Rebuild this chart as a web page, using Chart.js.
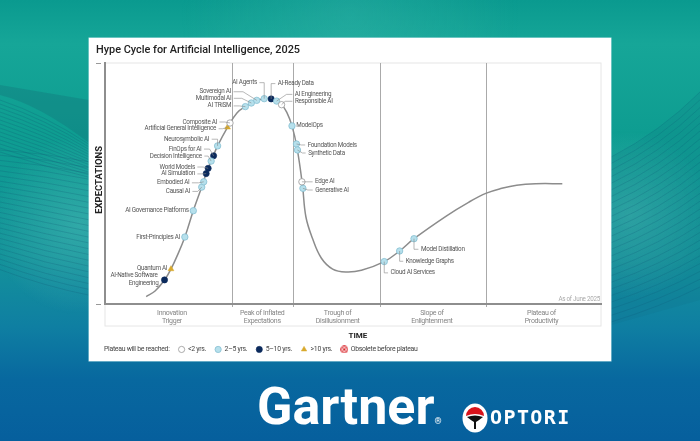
<!DOCTYPE html>
<html>
<head>
<meta charset="utf-8">
<script src="https://cdn.jsdelivr.net/npm/chart.js@4"></script>
<style>
  html, body { margin: 0; padding: 0; width: 700px; height: 441px; overflow: hidden; }
  body { position: relative; font-family: Roboto, sans-serif;
    background: linear-gradient(180deg, #0a9a8f 0%, #16a698 10%, #0e9d91 30%, #14939a 58%, #0f7fa2 74%, #08689f 86%, #065f9d 100%); }
  #waves { position: absolute; left: 0; top: 0; }
  #card { position: absolute; left: 89px; top: 38px; width: 522px; height: 323px; background: #fff; box-shadow: 0 0 0 0.5px #bfe3ea; }
  #card h1 { position: absolute; left: 7px; top: 5px; margin: 0; font: 500 10.9px Roboto, sans-serif; color: #222; white-space: nowrap; }
  #stage { position: absolute; left: 0; top: 0; }
  #gartner { position: absolute; left: 257px; top: 376px; font: 700 52px Roboto, sans-serif; color: #fff; }
  #gartner sup { font-size: 9px; font-weight: 400; vertical-align: baseline; margin-left: 0; }
  #optori { position: absolute; left: 490px; top: 405px; font: 700 20px "DejaVu Sans Mono", monospace; color: #fff; letter-spacing: 1.4px; }
  #badge { position: absolute; left: 462px; top: 403px; }
</style>
</head>
<body>
<canvas id="waves" width="700" height="441"></canvas>
<div id="card">
  <canvas id="stage" width="522" height="323"></canvas>
  <h1>Hype Cycle for Artificial Intelligence, 2025</h1>
</div>
<div id="gartner">Gartner<sup>®</sup></div>
<svg id="badge" width="26" height="30" viewBox="0 0 26 30">
  <ellipse cx="13" cy="15" rx="12.5" ry="14.5" fill="#fff"/>
  <path d="M4 13 A9 9 0 0 1 22 13 Q13 9 4 13Z" fill="#d8131b"/>
  <path d="M5 14 Q13 11 21 14 Q16 18 14 19 L14 26 L12 26 L12 19 Q10 18 5 14Z" fill="#111"/>
</svg>
<div id="optori">OPTORI</div>

<script>
// curve, x = time, y = expectations (both 0-100 of the plot)
const curveX = [8.3, 10.1, 12.0, 13.3, 14.7, 16.1, 17.8, 19.5, 20.4, 21.4, 22.7, 24.7, 26.6, 28.3, 30.6, 32.1, 33.5, 35.6, 36.7, 37.7, 38.7, 39.8, 40.5, 41.8, 43.6, 45.9, 48.6, 51.7, 56.3, 59.4, 62.3, 68.8, 73.3, 76.9, 80.0, 83.0, 86.8, 92.2];
const curveY = [3.1, 5.4, 10.0, 14.5, 20.7, 27.8, 38.7, 48.5, 54.1, 59.3, 65.6, 73.3, 79.3, 81.9, 84.5, 85.2, 85.1, 82.7, 79.3, 73.9, 65.0, 49.5, 36.2, 27.4, 19.1, 14.5, 13.3, 14.0, 17.6, 22.0, 27.1, 36.5, 42.2, 46.0, 48.0, 49.3, 49.9, 49.9];

const under2Names = ['Composite AI', 'Responsible AI', 'Edge AI'];
const under2X = [25.2, 35.6, 39.7];
const under2Y = [75.1, 82.7, 50.7];

const mid2to5Names = ['First-Principles AI', 'AI Governance Platforms', 'Causal AI', 'Embodied AI', 'Decision Intelligence', 'Neurosymbolic AI', 'AI TRiSM', 'Multimodal AI', 'Sovereign AI', 'AI Agents', 'AI Engineering', 'ModelOps', 'Foundation Models', 'Synthetic Data', 'Generative AI', 'Cloud AI Services', 'Knowledge Graphs', 'Model Distillation'];
const mid2to5X = [16.1, 17.8, 19.5, 19.9, 21.4, 22.7, 28.3, 29.5, 30.6, 32.1, 34.6, 37.7, 38.6, 38.8, 39.9, 56.3, 59.4, 62.3];
const mid2to5Y = [27.8, 38.7, 48.5, 50.7, 59.3, 65.6, 81.9, 83.4, 84.5, 85.2, 84.2, 73.9, 66.4, 63.9, 48.0, 17.6, 22.0, 27.1];

const long5to10Names = ['AI-Native Software|Engineering', 'AI Simulation', 'World Models', 'FinOps for AI', 'AI-Ready Data'];
const long5to10X = [12.0, 20.4, 20.8, 21.9, 33.5];
const long5to10Y = [10.0, 54.1, 56.3, 61.5, 85.1];

const over10Names = ['Quantum AI', 'Artificial General Intelligence'];
const over10X = [13.3, 24.7];
const over10Y = [14.5, 73.3];

const phaseBounds = [25.7, 38.0, 55.5, 77.0];
const phaseCenters = [13.5, 31.7, 46.9, 65.9, 88.0];
const phaseNames = [['Innovation', 'Trigger'], ['Peak of Inflated', 'Expectations'], ['Trough of', 'Disillusionment'], ['Slope of', 'Enlightenment'], ['Plateau of', 'Productivity']];

const legendNames = ['Plateau will be reached:', '<2 yrs.', '2–5 yrs.', '5–10 yrs.', '>10 yrs.', 'Obsolete before plateau'];

// where each label sits relative to its marker: [text edge dx, dy, leader elbow dx]
const labelPlace = {
  'AI Agents': [-7.3, -16, 0], 'AI-Ready Data': [6.7, -15.3, 0],
  'AI Engineering': [18.2, -6.7, 9.9], 'Responsible AI': [13.3, -3.4, 3.5],
  'Sovereign AI': [-25.7, -8.6, -13.7], 'Multimodal AI': [-20, -4.7, -9.6], 'AI TRiSM': [-14.2, -0.7, -6],
  'Composite AI': [-13, -1, -5], 'Artificial General Intelligence': [-11.4, 1.4, -5],
  'Neurosymbolic AI': [-8.4, -6.7, 0], 'FinOps for AI': [-12.1, -6.7, -4], 'Decision Intelligence': [-9.3, -5, -3],
  'World Models': [-13.3, -1.3, -5], 'AI Simulation': [-11.3, 0.3, -4], 'Embodied AI': [-14.3, 1, -5], 'Causal AI': [-11.8, 4.3, -4],
  'AI Governance Platforms': [-4.6, 0], 'First-Principles AI': [-4.8, 0], 'Quantum AI': [-3.7, -0.7],
  'AI-Native Software|Engineering': [-7, -4.3], 'ModelOps': [4.3, 0],
  'Foundation Models': [11.2, 1, 5], 'Synthetic Data': [10.7, 3, 5], 'Edge AI': [13.2, 0, 5], 'Generative AI': [12.3, 1.7, 5],
  'Cloud AI Services': [6.3, 11.3, 0], 'Knowledge Graphs': [6.1, 10.3, 0], 'Model Distillation': [6.9, 10.6, 0]
};

const toPoints = (xs, ys) => xs.map((x, i) => ({ x: x, y: ys[i] }));

// red "obsolete" legend icon
const obsoleteIcon = document.createElement('canvas');
obsoleteIcon.width = obsoleteIcon.height = 8;
(function () {
  const c = obsoleteIcon.getContext('2d');
  c.strokeStyle = '#d8232a'; c.lineWidth = 1;
  c.fillStyle = '#f9d4d4';
  c.beginPath(); c.arc(4, 4, 3.4, 0, Math.PI * 2); c.fill(); c.stroke();
  c.beginPath(); c.moveTo(2.4, 2.4); c.lineTo(5.6, 5.6); c.moveTo(5.6, 2.4); c.lineTo(2.4, 5.6); c.stroke();
})();

// background mesh, just decoration
(function () {
  const c = document.getElementById('waves').getContext('2d');
  const glow = (x, y, r, a) => {
    const g = c.createRadialGradient(x, y, 0, x, y, r);
    g.addColorStop(0, 'rgba(120,215,205,' + a + ')');
    g.addColorStop(1, 'rgba(120,215,205,0)');
    c.fillStyle = g; c.fillRect(0, 0, 700, 441);
  };
  glow(80, 225, 90, 0.3); glow(630, 215, 85, 0.3); glow(350, 15, 170, 0.16);
  // dark wedge on the left
  c.fillStyle = 'rgba(20,90,110,0.24)';
  c.beginPath(); c.moveTo(0, 85); c.lineTo(89, 100); c.lineTo(89, 143); c.quadraticCurveTo(40, 105, 0, 95); c.fill();
  c.lineWidth = 0.7;
  c.strokeStyle = 'rgba(15,85,115,0.34)';
  for (let i = 0; i < 24; i++) {
    c.beginPath();
    c.moveTo(0, 150 + i * 5.2);
    c.quadraticCurveTo(45, 153 + i * 5.8, 90, 162 + i * 5.8);
    c.stroke();
  }
  for (let i = 0; i < 14; i++) {
    c.beginPath();
    c.moveTo(0, 100 + i * 4);
    c.quadraticCurveTo(45, 115 + i * 4, 90, 145 + i * 2.5);
    c.stroke();
  }
  // fan on the right
  c.fillStyle = 'rgba(15,95,125,0.12)';
  c.beginPath(); c.moveTo(611, 157); c.quadraticCurveTo(660, 132, 700, 92); c.lineTo(700, 300); c.lineTo(611, 325); c.fill();
  c.strokeStyle = 'rgba(15,85,115,0.32)';
  for (let i = 0; i < 26; i++) {
    c.beginPath();
    c.moveTo(611, 157 + i * 6.6);
    c.quadraticCurveTo(660, 132 + i * 7, 700, 92 + i * 7.8);
    c.stroke();
  }
})();

const narrow = '-0.28px';

const hypePlugin = {
  id: 'hype',
  beforeUpdate(chart) { chart.ctx.letterSpacing = narrow; },
  beforeDraw(chart) {
    const a = chart.chartArea, c = chart.ctx;
    c.letterSpacing = narrow;
    c.save();
    c.strokeStyle = '#e6e6e6'; c.lineWidth = 1;
    c.strokeRect(a.left, a.top, a.right - a.left, a.bottom - a.top + 22);
    c.strokeStyle = '#999';
    [a.top, a.bottom].forEach(y => { c.beginPath(); c.moveTo(a.left - 9, y + 0.5); c.lineTo(a.left - 4, y + 0.5); c.stroke(); });
    c.restore();
  },
  afterLayout(chart) {
    chart.legend.left = -3.5;
    chart.legend.top = 299;
  },
  afterDatasetsDraw(chart) {
    const c = chart.ctx, x = chart.scales.x, y = chart.scales.y;
    const groups = [[under2Names, under2X, under2Y], [mid2to5Names, mid2to5X, mid2to5Y], [long5to10Names, long5to10X, long5to10Y], [over10Names, over10X, over10Y]];
    c.save();
    c.font = '6.3px Roboto, sans-serif'; c.textBaseline = 'middle';
    groups.forEach(([names, xs, ys]) => names.forEach((name, i) => {
      const px = x.getPixelForValue(xs[i]), py = y.getPixelForValue(ys[i]);
      const place = labelPlace[name];
      const tx = px + place[0], ty = py + place[1];
      const left = place[0] < 0;
      c.textAlign = left ? 'right' : 'left';
      c.fillStyle = '#555';
      const lines = name.split('|');
      lines.forEach((line, k) => c.fillText(line, tx + k, ty + k * 8));
      if (place[2] !== undefined) {
        c.strokeStyle = '#888'; c.lineWidth = 0.6;
        c.beginPath();
        c.moveTo(tx + (left ? 2.5 : -2.5), ty);
        c.lineTo(px + place[2], ty);
        c.lineTo(px, py);
        c.stroke();
      }
    }));
    // as-of note and axis names
    c.fillStyle = '#aaa'; c.textAlign = 'right';
    c.fillText('As of June 2025', chart.chartArea.right - 1, chart.chartArea.bottom - 5);
    c.fillStyle = '#222'; c.textAlign = 'center';
    c.letterSpacing = '0px';
    c.font = '700 8px Roboto, sans-serif';
    c.fillText('TIME', x.getPixelForValue(51), chart.chartArea.bottom + 31.5);
    c.translate(chart.chartArea.left - 5.5, y.getPixelForValue(51.5));
    c.rotate(-Math.PI / 2);
    c.font = '700 9.5px Roboto, sans-serif';
    c.fillText('EXPECTATIONS', 0, 0);
    c.restore();
  }
};

new Chart(document.getElementById('stage').getContext('2d'), {
  type: 'scatter',
  plugins: [hypePlugin],
  data: {
    datasets: [
      { label: legendNames[0], data: [], pointStyle: 'circle', backgroundColor: 'rgba(0,0,0,0)', borderColor: 'rgba(0,0,0,0)', order: 1 },
      { label: legendNames[1], data: toPoints(under2X, under2Y), backgroundColor: '#fff', borderColor: '#8a8a8a', pointRadius: 3.2, borderWidth: 0.7, pointStyle: 'circle', order: 1 },
      { label: legendNames[2], data: toPoints(mid2to5X, mid2to5Y), backgroundColor: '#b6e0ec', borderColor: '#86bfd2', pointRadius: 3.2, borderWidth: 0.8, pointStyle: 'circle', order: 1 },
      { label: legendNames[3], data: toPoints(long5to10X, long5to10Y), backgroundColor: '#0b2a5c', borderColor: '#0b2a5c', pointRadius: 3.1, borderWidth: 0.6, pointStyle: 'circle', order: 1 },
      { label: legendNames[4], data: toPoints(over10X, over10Y), backgroundColor: '#d8a92c', borderColor: '#d8a92c', pointRadius: 3.4, borderWidth: 0.5, pointStyle: 'triangle', order: 1 },
      { label: legendNames[5], data: [], pointStyle: obsoleteIcon, backgroundColor: '#d8232a', borderColor: '#d8232a', order: 1 },
      { label: 'curve', data: toPoints(curveX, curveY), showLine: true, pointRadius: 0, borderColor: '#8c8c8c', borderWidth: 1.5, tension: 0.4, order: 3 }
    ]
  },
  options: {
    responsive: false,
    animation: false,
    layout: { padding: { left: 16, right: 10, top: 25, bottom: 0 } },
    scales: {
      x: {
        type: 'linear', min: 0, max: 100,
        afterBuildTicks: s => { s.ticks = phaseBounds.map(v => ({ value: v })); },
        afterFit: s => { s.height = 0; },
        ticks: { display: false },
        grid: { color: '#aaa', lineWidth: 1, tickLength: 3 },
        border: { color: '#8e8e8e', width: 2 }
      },
      x2: {
        type: 'linear', position: 'bottom', min: 0, max: 100,
        afterBuildTicks: s => { s.ticks = phaseCenters.map(v => ({ value: v })); },
        afterFit: s => { s.height = 57 - (s.chart.legend ? s.chart.legend.height : 0); },
        ticks: { callback: (v, i) => phaseNames[i], autoSkip: false, maxRotation: 0, color: '#858585', font: { size: 7, family: 'Roboto', lineHeight: 1.14 }, padding: -3, includeBounds: false },
        grid: { display: false }, border: { display: false }
      },
      y: {
        type: 'linear', min: 0, max: 100,
        afterFit: s => { s.width = 0; },
        ticks: { display: false },
        grid: { display: false },
        border: { color: '#8e8e8e', width: 2 }
      }
    },
    plugins: {
      tooltip: { enabled: false },
      legend: {
        position: 'bottom', align: 'start',
        labels: {
          usePointStyle: true, boxWidth: 6, boxHeight: 4.4, padding: 9,
          color: '#444', font: { size: 6.9, family: 'Roboto' },
          filter: item => item.text !== 'curve'
        }
      }
    }
  }
});
</script>
</body>
</html>
